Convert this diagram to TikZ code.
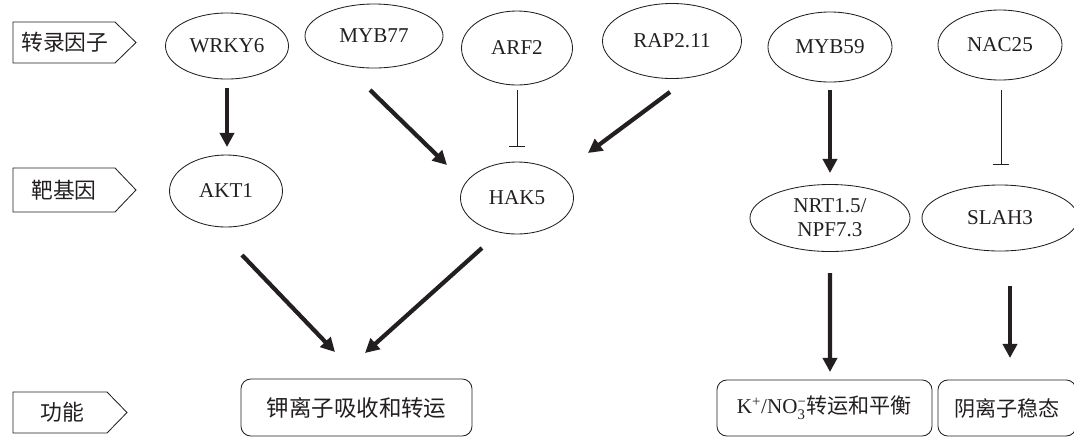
\documentclass[tikz,border=0pt]{standalone}
\usepackage{fontspec}
\usepackage{amsmath}
\setmainfont{Liberation Serif}
\newfontfamily\cjk{Noto Sans CJK SC}
\usetikzlibrary{shapes.geometric,arrows.meta}
\definecolor{DiagInk}{HTML}{231F20}

\begin{document}
\begin{tikzpicture}[
    x=0.025cm, y=-0.025cm,
    every node/.style={font=\fontsize{15}{17}\selectfont, text=DiagInk},
    tag/.style={inner sep=0pt, font=\cjk\fontsize{15.5}{17}\selectfont},
    tagline/.style={draw=DiagInk, line width=0.6pt},
    gene/.style={ellipse, draw=DiagInk, line width=0.6pt, inner sep=0pt, align=center},
    func/.style={rectangle, rounded corners=7pt, draw=DiagInk, line width=0.6pt, inner sep=0pt},
    act/.style={-{Triangle[length=10pt,width=10pt]}, line width=3pt, draw=DiagInk},
    inh/.style={-{Bar[width=12pt]}, line width=0.6pt, draw=DiagInk}
  ]
    \useasboundingbox (0,0) rectangle (1074,437);
    \draw[tagline] (13,22) -- (115,22) -- (136,42.5) -- (115,63) -- (13,63) -- cycle;
    \draw[tagline] (13,168) -- (115,168) -- (136,190) -- (115,212) -- (13,212) -- cycle;
    \draw[tagline] (13,392) -- (107,392) -- (127,412.5) -- (107,433) -- (13,433) -- cycle;
    \node[tag] (tf) at (65,42.5) {转录因子};
    \node[tag] (tg) at (64,190) {靶基因};
    \node[tag] (fn) at (62,412.5) {功能};
    \node[gene, minimum width=3.075cm, minimum height=1.65cm] (wrky) at (227,46) {WRKY6};
    \node[gene, minimum width=3.45cm, minimum height=1.6cm] (mybsev) at (374,36) {MYB77};
    \node[gene, minimum width=2.775cm, minimum height=1.85cm] (arf) at (517,48) {ARF2};
    \node[gene, minimum width=3.475cm, minimum height=1.875cm] (rap) at (672,41) {RAP2.11};
    \node[gene, minimum width=3.1cm, minimum height=1.75cm] (mybfif) at (830,47) {MYB59};
    \node[gene, minimum width=3.1cm, minimum height=1.75cm] (nac) at (1000,45) {NAC25};
    \node[gene, minimum width=2.825cm, minimum height=1.8cm] (akt) at (226,191) {AKT1};
    \node[gene, minimum width=2.825cm, minimum height=1.8cm] (hak) at (517,198) {HAK5};
    \node[gene, minimum width=4.0cm, minimum height=1.675cm] (nrt) at (830,218) {NRT1.5/\\NPF7.3};
    \node[gene, minimum width=3.9cm, minimum height=1.65cm] (slah) at (1000,218) {SLAH3};
    \node[func, minimum width=5.775cm, minimum height=1.425cm, font=\cjk\fontsize{16}{18}\selectfont] (kfun) at (356.5,407.5) {钾离子吸收和转运};
    \node[func, minimum width=5.375cm, minimum height=1.4cm] (kno) at (824.5,408) {K\textsuperscript{+}/NO$_{\text{3}}^{\text{−}}${\cjk 转运和平衡}};
    \node[func, minimum width=3.45cm, minimum height=1.4cm, font=\cjk\fontsize{15}{17}\selectfont] (anion) at (1007,408) {阴离子稳态};
    \draw[act] ([shift={(0,42)}]wrky.center) -- ([shift={(1,-44)}]akt.center);
    \draw[act] ([shift={(-4,54)}]mybsev.center) -- ([shift={(-70,-33)}]hak.center);
    \draw[inh] ([shift={(0,42)}]arf.center) -- ([shift={(0,-51)}]hak.center);
    \draw[act] ([shift={(-2,51)}]rap.center) -- ([shift={(71,-45)}]hak.center);
    \draw[act] ([shift={(0,43)}]mybfif.center) -- ([shift={(0,-45)}]nrt.center);
    \draw[inh] ([shift={(1,45)}]nac.center) -- ([shift={(1,-53)}]slah.center);
    \draw[act] ([shift={(16,64)}]akt.center) -- ([shift={(-21.5,-55.5)}]kfun.center);
    \draw[act] ([shift={(-35,50)}]hak.center) -- ([shift={(8.5,-54.5)}]kfun.center);
    \draw[act] ([shift={(0,55)}]nrt.center) -- ([shift={(5.5,-36)}]kno.center);
    \draw[act] ([shift={(10,68)}]slah.center) -- ([shift={(3,-50)}]anion.center);
  \end{tikzpicture}
\end{document}
